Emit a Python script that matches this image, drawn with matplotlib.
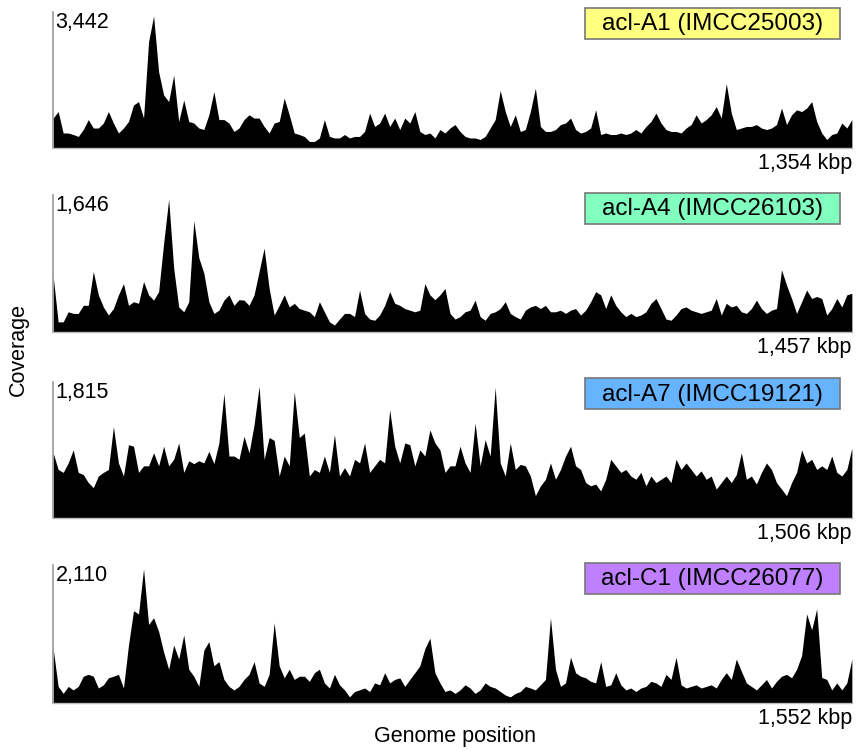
import matplotlib.pyplot as plt
from matplotlib.patches import Rectangle
import numpy as np

plt.rcParams['font.family'] = ['Liberation Sans', 'DejaVu Sans']

# genome names, lengths (kbp), max coverage, label colours
names = ['acl-A1 (IMCC25003)', 'acl-A4 (IMCC26103)', 'acl-A7 (IMCC19121)', 'acl-C1 (IMCC26077)']
lengths = [1354, 1457, 1506, 1552]
max_cov = [3442, 1646, 1815, 2110]
colors = ['#ffff80', '#80ffbf', '#66b3ff', '#bf80ff']

# coverage profiles (evenly spaced along the genome)
cov_a1 = [780, 950, 390, 390, 350, 300, 480, 740, 520, 520, 650, 950, 650, 390, 520, 690,
          1120, 1210, 780, 2770, 3442, 1990, 1380, 1210, 1900, 690, 1250, 690, 650, 520, 480, 865,
          1470, 740, 740, 650, 430, 520, 740, 865, 780, 780, 560, 390, 650, 690, 1300, 865,
          390, 350, 300, 170, 170, 260, 740, 300, 260, 260, 350, 260, 300, 300, 430, 910,
          560, 650, 910, 560, 780, 480, 780, 650, 950, 430, 350, 390, 260, 480, 390, 520,
          610, 430, 300, 260, 260, 220, 300, 520, 740, 1500, 950, 560, 865, 430, 480, 950,
          1560, 560, 430, 430, 480, 610, 650, 780, 480, 390, 430, 520, 995, 350, 390, 350,
          350, 390, 350, 390, 480, 390, 560, 690, 910, 650, 480, 430, 430, 390, 520, 610,
          865, 650, 740, 865, 1080, 780, 1680, 910, 480, 520, 560, 560, 610, 520, 480, 520,
          610, 1040, 610, 865, 995, 950, 1040, 1210, 690, 390, 220, 350, 390, 650, 520, 740]

cov_a4 = [690, 125, 125, 250, 230, 230, 330, 330, 750, 460, 310, 210, 290, 460, 600, 330,
          375, 355, 625, 460, 395, 500, 1100, 1646, 790, 310, 250, 375, 1380, 920, 730, 375,
          230, 270, 395, 460, 330, 400, 395, 330, 460, 750, 1040, 540, 210, 330, 460, 310,
          355, 290, 270, 250, 190, 375, 250, 125, 85, 160, 230, 230, 190, 520, 230, 160,
          145, 210, 330, 500, 355, 330, 290, 270, 250, 270, 600, 460, 400, 460, 540, 230,
          160, 190, 250, 270, 395, 190, 145, 230, 250, 290, 375, 230, 190, 160, 270, 310,
          330, 290, 330, 250, 250, 270, 230, 270, 290, 210, 270, 375, 500, 460, 290, 460,
          330, 250, 190, 230, 190, 210, 250, 355, 415, 290, 160, 145, 210, 290, 310, 270,
          250, 230, 250, 270, 415, 210, 355, 310, 330, 250, 230, 290, 395, 290, 230, 270,
          290, 770, 580, 415, 230, 375, 520, 415, 440, 415, 210, 290, 415, 310, 460, 480]

cov_a7 = [900, 670, 630, 760, 940, 630, 600, 490, 420, 580, 630, 670, 1260, 760, 580, 1010,
          990, 630, 720, 720, 900, 720, 990, 720, 810, 1035, 630, 790, 750, 790, 760, 920,
          750, 1035, 1715, 855, 855, 810, 1125, 900, 1285, 1815, 810, 1110, 1070, 580, 855, 720,
          1740, 1110, 1170, 580, 670, 630, 855, 630, 1150, 580, 695, 580, 810, 760, 1035, 630,
          720, 810, 760, 1490, 990, 760, 1035, 1010, 720, 940, 855, 1215, 1035, 940, 630, 720,
          720, 990, 760, 630, 1310, 720, 1080, 855, 1800, 760, 580, 1035, 670, 740, 720, 580,
          310, 445, 535, 760, 535, 670, 855, 990, 720, 670, 490, 445, 470, 375, 535, 810,
          720, 630, 670, 580, 535, 630, 445, 580, 490, 535, 580, 490, 810, 670, 760, 670,
          580, 650, 535, 580, 400, 490, 580, 490, 600, 900, 535, 580, 470, 630, 760, 670,
          490, 400, 310, 490, 630, 940, 760, 810, 670, 720, 670, 855, 630, 580, 670, 965]

cov_c1 = [855, 260, 150, 260, 205, 260, 420, 450, 420, 235, 285, 395, 420, 450, 235, 910,
          1450, 1400, 2110, 1235, 1340, 1125, 800, 530, 910, 690, 1070, 530, 420, 260, 830, 965,
          585, 650, 370, 260, 205, 260, 370, 450, 650, 315, 260, 450, 1260, 585, 395, 530,
          370, 420, 420, 340, 475, 530, 315, 235, 450, 285, 205, 95, 180, 205, 235, 180,
          315, 285, 475, 315, 370, 395, 260, 370, 475, 585, 855, 1020, 475, 315, 180, 205,
          150, 205, 285, 235, 150, 205, 315, 260, 235, 180, 125, 95, 150, 180, 260, 235,
          205, 285, 370, 1340, 530, 260, 315, 720, 475, 420, 395, 340, 315, 650, 260, 285,
          475, 285, 205, 235, 180, 235, 260, 340, 315, 260, 450, 370, 720, 285, 235, 260,
          285, 235, 260, 285, 235, 370, 475, 370, 690, 500, 315, 260, 205, 285, 370, 235,
          340, 420, 450, 395, 530, 745, 1400, 1150, 1480, 400, 370, 205, 315, 205, 315, 690]

profiles = [cov_a1, cov_a4, cov_a7, cov_c1]

# axes rectangles in figure fractions (left, bottom, width, height)
rects = [[0.062, 0.803, 0.932, 0.181],
         [0.062, 0.558, 0.932, 0.182],
         [0.062, 0.310, 0.932, 0.181],
         [0.062, 0.064, 0.932, 0.184]]
# bottoms of the name boxes (figure fractions)
box_bottoms = [0.948, 0.702, 0.455, 0.209]
box_left, box_w, box_h = 0.6826, 0.2975, 0.0413

fig = plt.figure(figsize=(8.57, 7.51), dpi=100)

for rect, bb, name, L, mx, col, cov in zip(rects, box_bottoms, names, lengths, max_cov, colors, profiles):
    ax = fig.add_axes(rect)
    cov = np.array(cov)
    x = np.linspace(0, L, len(cov))
    ax.fill_between(x, 0, cov, color='black', linewidth=0)
    ax.set_xlim(0, L)
    ax.set_ylim(0, mx * 1.03)
    ax.set_xticks([])
    ax.set_yticks([])
    for s in ['top', 'right']:
        ax.spines[s].set_visible(False)
    ax.spines['left'].set_color('#999999')
    ax.spines['bottom'].set_color('#bbbbbb')
    ax.spines['left'].set_linewidth(1.2)
    ax.spines['bottom'].set_linewidth(1.0)
    ax.text(0.003, 1.0, f'{mx:,}', transform=ax.transAxes, ha='left', va='top', fontsize=15.5)
    ax.text(1.0, -0.035, f'{L:,} kbp', transform=ax.transAxes, ha='right', va='top', fontsize=15.5)

    # name label box
    fig.patches.append(Rectangle((box_left, bb), box_w, box_h, transform=fig.transFigure,
                                 facecolor=col, edgecolor='#777777', linewidth=1.2))
    fig.text(box_left + box_w / 2, bb + box_h / 2 - 0.001, name, ha='center', va='center', fontsize=17.5)

fig.text(0.021, 0.535, 'Coverage', rotation=90, ha='center', va='center', fontsize=15.5)
fig.text(0.531, 0.019, 'Genome position', ha='center', va='center', fontsize=15.5)

fig.savefig('out.png', dpi=100)
